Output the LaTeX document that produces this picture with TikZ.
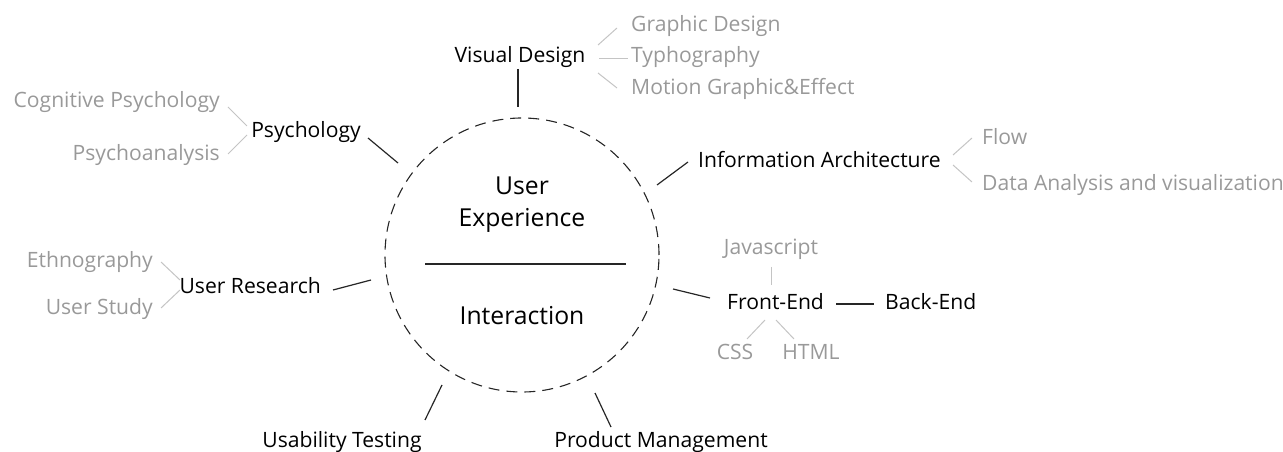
\documentclass[tikz,border=0pt]{standalone}
\usepackage{fontspec}
\setmainfont{Open Sans}
\definecolor{subtext}{HTML}{999999}
\definecolor{subline}{HTML}{C4C4C4}
\begin{document}
\begin{tikzpicture}[x=1bp,y=-1bp,
  main/.style={font=\fontsize{21.2}{25}\selectfont, text=black, inner sep=0pt},
  sub/.style={font=\fontsize{21.2}{25}\selectfont, text=subtext, inner sep=0pt},
  big/.style={font=\fontsize{24.8}{29}\selectfont, text=black, inner sep=0pt},
  conn/.style={draw=black!85, line width=1.2bp},
  subconn/.style={draw=subline, line width=1bp}]
\useasboundingbox (0,0) rectangle (1283,452);

% central circle
\node[circle, draw=black!85, line width=1.1bp, dash pattern=on 11bp off 7bp, minimum size=274bp, inner sep=0pt] (ux) at (522,255) {};
\node[big, anchor=base] (user) at (522,195) {User};
\node[big, anchor=base] (exp) at (522,227) {Experience};
\node[big, anchor=base] (inter) at (522,325) {Interaction};
\coordinate (divL) at (425,264);
\coordinate (divR) at (626,264);
\draw[conn] (divL) -- (divR);

% main topics
\node[main, anchor=base] (vd) at (520,63) {Visual Design};
\node[main, anchor=base east] (psy) at (361,138) {Psychology};
\node[main, anchor=base west] (ia) at (698,168) {Information Architecture};
\node[main, anchor=base east] (ur) at (321,294) {User Research};
\node[main, anchor=base west] (fe) at (727,310) {Front-End};
\node[main, anchor=base west] (be) at (885,310) {Back-End};
\node[main, anchor=base] (ut) at (342,448) {Usability Testing};
\node[main, anchor=base] (pm) at (661,448) {Product Management};

% sub topics
\node[sub, anchor=base west] (gd) at (631,32) {Graphic Design};
\node[sub, anchor=base west] (ty) at (631,63) {Typhography};
\node[sub, anchor=base west] (mg) at (631,95) {Motion Graphic\&Effect};
\node[sub, anchor=base east] (cp) at (220,108) {Cognitive Psychology};
\node[sub, anchor=base east] (pa) at (220,161) {Psychoanalysis};
\node[sub, anchor=base west] (fl) at (982,145) {Flow};
\node[sub, anchor=base west] (da) at (982,191) {Data Analysis and visualization};
\node[sub, anchor=base east] (eth) at (153,268) {Ethnography};
\node[sub, anchor=base east] (us) at (153,315) {User Study};
\node[sub, anchor=base] (js) at (771,255) {Javascript};
\node[sub, anchor=base] (css) at (735,360) {CSS};
\node[sub, anchor=base] (html) at (811,360) {HTML};

% connector end points
\coordinate (vdA) at (518,69);   \coordinate (vdB) at (518,107);
\coordinate (psyA) at (368,138); \coordinate (psyB) at (398,163);
\coordinate (iaA) at (657,185);  \coordinate (iaB) at (688,162);
\coordinate (urA) at (333,290);  \coordinate (urB) at (371,280);
\coordinate (utA) at (425,420);  \coordinate (utB) at (442,385);
\coordinate (pmA) at (595,393);  \coordinate (pmB) at (611,427);
\coordinate (feA) at (673,289);  \coordinate (feB) at (710,298);
\coordinate (beA) at (836,304);  \coordinate (beB) at (874,304);

\draw[conn] (vdA) -- (vdB);
\draw[conn] (psyA) -- (psyB);
\draw[conn] (iaA) -- (iaB);
\draw[conn] (urA) -- (urB);
\draw[conn] (utA) -- (utB);
\draw[conn] (pmA) -- (pmB);
\draw[conn] (feA) -- (feB);
\draw[conn] (beA) -- (beB);

% sub connectors
\coordinate (gdA) at (598,45);  \coordinate (gdB) at (617,28);
\coordinate (tyA) at (599,59);  \coordinate (tyB) at (628,59);
\coordinate (mgA) at (598,73);  \coordinate (mgB) at (617,88);
\coordinate (cpA) at (228,107); \coordinate (cpB) at (247,126);
\coordinate (paA) at (228,154); \coordinate (paB) at (247,135);
\coordinate (flA) at (953,155); \coordinate (flB) at (972,138);
\coordinate (daA) at (953,165); \coordinate (daB) at (972,182);
\coordinate (ethA) at (161,262); \coordinate (ethB) at (180,280);
\coordinate (usA) at (161,308);  \coordinate (usB) at (180,290);
\coordinate (jsA) at (771,267);  \coordinate (jsB) at (771,285);
\coordinate (cssA) at (765,320); \coordinate (cssB) at (747,339);
\coordinate (htA) at (776,320);  \coordinate (htB) at (794,339);

\draw[subconn] (gdA) -- (gdB);
\draw[subconn] (tyA) -- (tyB);
\draw[subconn] (mgA) -- (mgB);
\draw[subconn] (cpA) -- (cpB);
\draw[subconn] (paA) -- (paB);
\draw[subconn] (flA) -- (flB);
\draw[subconn] (daA) -- (daB);
\draw[subconn] (ethA) -- (ethB);
\draw[subconn] (usA) -- (usB);
\draw[subconn] (jsA) -- (jsB);
\draw[subconn] (cssA) -- (cssB);
\draw[subconn] (htA) -- (htB);
\end{tikzpicture}
\end{document}
